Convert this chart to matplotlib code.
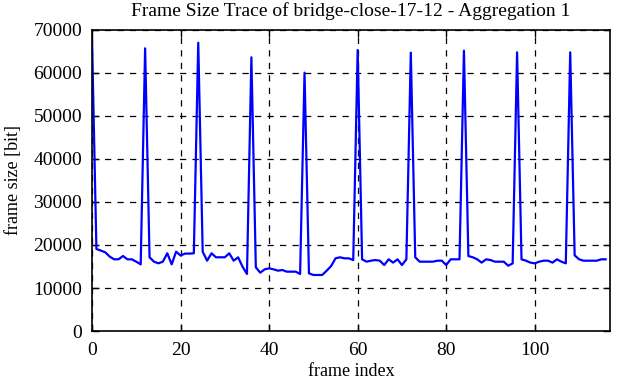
import numpy as np
import matplotlib
matplotlib.use('Agg')
import matplotlib.pyplot as plt

# frame sizes in bit (frames 0..116)
frame_size = [
    68400, 19070, 18700, 18300, 17300, 16670, 16670, 17440, 16670, 16670,
    16120, 15500, 65740, 17140, 16120, 15740, 16120, 18070, 15500, 18450,
    17550, 18000, 18000, 18070, 67050, 18450, 16350, 18070, 17140, 17140,
    17140, 18070, 16350, 17140, 14960, 13260, 63650, 14810, 13560, 14340,
    14570, 14340, 14030, 14180, 13800, 13800, 13800, 13260, 60070, 13410,
    13030, 13030, 13030, 14030, 15100, 16900, 17140, 16900, 16900, 16500,
    65350, 16670, 16120, 16350, 16500, 16350, 15340, 16670, 15900, 16670,
    15340, 16670, 64730, 17140, 16120, 16120, 16120, 16120, 16350, 16350,
    15340, 16670, 16670, 16670, 65190, 17440, 17140, 16670, 15900, 16670,
    16500, 16120, 16120, 16120, 15180, 15720, 64800, 16670, 16350, 15900,
    15740, 16120, 16350, 16350, 15900, 16670, 16120, 15740, 64800, 17600,
    16670, 16350, 16350, 16350, 16350, 16670, 16670,
]
frame_index = np.arange(len(frame_size))

plt.rcParams['font.family'] = ['Liberation Serif', 'DejaVu Serif']

fig = plt.figure(figsize=(6.27, 3.82), dpi=100)
ax = fig.add_axes([0.1467, 0.1335, 0.8263, 0.788])

ax.plot(frame_index, frame_size, color=(0, 0, 1), linewidth=1.6)

ax.set_xlim(0, 117)
ax.set_ylim(0, 70000)
ax.set_xticks([0, 20, 40, 60, 80, 100])
ax.set_yticks(np.arange(0, 70001, 10000))
ax.grid(True, color='black', linestyle=(0, (5, 5)), linewidth=0.9)
ax.tick_params(direction='in', length=5, width=1, top=True, right=True,
               labelsize=14, colors='black')
ax.tick_params(axis='x', pad=8)
ax.tick_params(axis='y', pad=7)
for s in ax.spines.values():
    s.set_linewidth(1.2)

ax.set_xlabel('frame index', fontsize=13, labelpad=3)
ax.set_ylabel('frame size [bit]', fontsize=13, labelpad=8)
ax.set_title('Frame Size Trace of bridge-close-17-12 - Aggregation 1', fontsize=14, pad=10)

fig.savefig('out.png', dpi=100)
